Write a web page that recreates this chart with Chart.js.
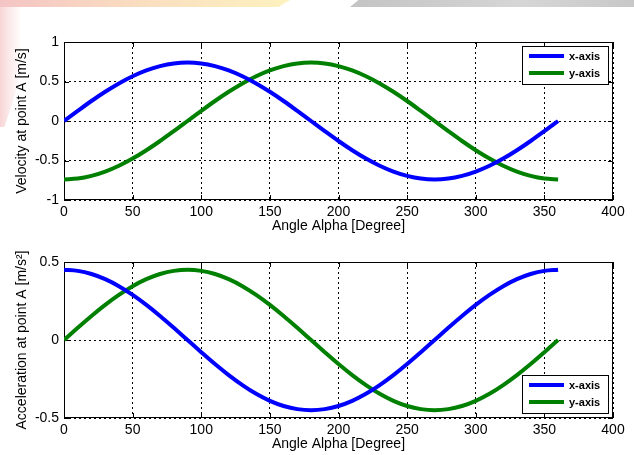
<!DOCTYPE html>
<html>
<head>
<meta charset="utf-8">
<script src="https://cdn.jsdelivr.net/npm/chart.js@4.4.1/dist/chart.umd.min.js"></script>
<style>
    html, body { margin: 0; padding: 0; background: #fff; }
    body { width: 634px; height: 455px; position: relative; overflow: hidden; font-family: 'Liberation Sans', Arial, sans-serif; }
    .deco { position: absolute; }
    #decoLeft { left: 0; top: 0; width: 290px; height: 7px; background: linear-gradient(90deg, #f4c4c4 0%, #f9dcc0 45%, #fdf2bf 100%); clip-path: polygon(0 0, 100% 0, 96% 100%, 0 100%); }
    #decoRight { left: 350px; top: 0; width: 284px; height: 7px; background: linear-gradient(90deg, #c4c4c4 0%, #cfcfcf 40%, #d6d6d6 60%, #c8c8c8 100%); clip-path: polygon(3% 0, 100% 0, 100% 100%, 0 100%); }
    #decoSide { left: 0; top: 7px; width: 22px; height: 120px; background: linear-gradient(90deg, #f6caca 0%, #fbe3e3 40%, rgba(255,255,255,0) 100%); clip-path: polygon(0 0, 100% 0, 100% 55%, 20% 100%, 0 100%); opacity: 0.8; }
    canvas { position: absolute; left: 0; }
    #velocityChart { top: 0; }
    #accelChart { top: 235px; }
</style>
</head>
<body>
<div class="deco" id="decoLeft"></div>
<div class="deco" id="decoRight"></div>
<div class="deco" id="decoSide"></div>
<canvas id="velocityChart" width="634" height="235"></canvas>
<canvas id="accelChart" width="634" height="220"></canvas>
<script>
// Angle steps (degrees)
const angles = [0, 10, 20, 30, 40, 50, 60, 70, 80, 90, 100, 110, 120, 130, 140, 150, 160, 170, 180,
    190, 200, 210, 220, 230, 240, 250, 260, 270, 280, 290, 300, 310, 320, 330, 340, 350, 360];

// Velocity at point A [m/s]
const velocityX = [0, 0.128, 0.253, 0.37, 0.476, 0.567, 0.641, 0.695, 0.729, 0.74, 0.729, 0.695, 0.641, 0.567, 0.476, 0.37, 0.253, 0.128, 0,
    -0.128, -0.253, -0.37, -0.476, -0.567, -0.641, -0.695, -0.729, -0.74, -0.729, -0.695, -0.641, -0.567, -0.476, -0.37, -0.253, -0.128, 0];
const velocityY = [-0.74, -0.729, -0.695, -0.641, -0.567, -0.476, -0.37, -0.253, -0.128, 0, 0.128, 0.253, 0.37, 0.476, 0.567, 0.641, 0.695, 0.729, 0.74,
    0.729, 0.695, 0.641, 0.567, 0.476, 0.37, 0.253, 0.128, 0, -0.128, -0.253, -0.37, -0.476, -0.567, -0.641, -0.695, -0.729, -0.74];

// Acceleration at point A [m/s²]
const accelX = [0.45, 0.443, 0.423, 0.39, 0.345, 0.289, 0.225, 0.154, 0.078, 0, -0.078, -0.154, -0.225, -0.289, -0.345, -0.39, -0.423, -0.443, -0.45,
    -0.443, -0.423, -0.39, -0.345, -0.289, -0.225, -0.154, -0.078, 0, 0.078, 0.154, 0.225, 0.289, 0.345, 0.39, 0.423, 0.443, 0.45];
const accelY = [0, 0.078, 0.154, 0.225, 0.289, 0.345, 0.39, 0.423, 0.443, 0.45, 0.443, 0.423, 0.39, 0.345, 0.289, 0.225, 0.154, 0.078, 0,
    -0.078, -0.154, -0.225, -0.289, -0.345, -0.39, -0.423, -0.443, -0.45, -0.443, -0.423, -0.39, -0.345, -0.289, -0.225, -0.154, -0.078, 0];

// Tick labels
const xTicks = [0, 50, 100, 150, 200, 250, 300, 350, 400];
const velocityTicks = [-1, -0.5, 0, 0.5, 1];
const accelTicks = [-0.5, 0, 0.5];

const seriesNames = ['x-axis', 'y-axis'];
const seriesColors = ['#0000ff', '#008000'];

const FONT = "'Liberation Sans', Arial, sans-serif";

// Build {x, y} points from the arrays
function toPoints(values) {
    return angles.map((a, i) => ({ x: a, y: values[i] }));
}

// Box around the axes with inward tick marks (MATLAB style)
const framePlugin = {
    id: 'frame',
    beforeDatasetsDraw(chart) {
        const { ctx, chartArea: area, scales } = chart;
        ctx.save();
        ctx.strokeStyle = '#000';
        ctx.lineWidth = 1;
        ctx.setLineDash([]);
        ctx.strokeRect(area.left + 0.5, area.top + 0.5, area.right - area.left - 1, area.bottom - area.top - 1);
        ctx.beginPath();
        scales.x.ticks.forEach(t => {
            const px = Math.round(scales.x.getPixelForValue(t.value)) + 0.5;
            ctx.moveTo(px, area.bottom); ctx.lineTo(px, area.bottom - 5);
            ctx.moveTo(px, area.top); ctx.lineTo(px, area.top + 5);
        });
        scales.y.ticks.forEach(t => {
            const py = Math.round(scales.y.getPixelForValue(t.value)) + 0.5;
            ctx.moveTo(area.left, py); ctx.lineTo(area.left + 5, py);
            ctx.moveTo(area.right, py); ctx.lineTo(area.right - 5, py);
        });
        ctx.stroke();
        ctx.restore();
    }
};

// Legend box drawn inside the plot area
const boxLegendPlugin = {
    id: 'boxLegend',
    afterDraw(chart, args, opts) {
        const { ctx } = chart;
        const x = opts.x, y = opts.y, w = 86, h = 38;
        ctx.save();
        ctx.fillStyle = '#fff';
        ctx.fillRect(x, y, w, h);
        ctx.strokeStyle = '#000';
        ctx.lineWidth = 1;
        ctx.strokeRect(x + 0.5, y + 0.5, w, h);
        chart.data.datasets.forEach((ds, i) => {
            const ly = y + 10 + i * 17;
            ctx.strokeStyle = ds.borderColor;
            ctx.lineWidth = 4;
            ctx.beginPath();
            ctx.moveTo(x + 7, ly);
            ctx.lineTo(x + 42, ly);
            ctx.stroke();
            ctx.fillStyle = '#000';
            ctx.font = 'bold 11px ' + FONT;
            ctx.textBaseline = 'middle';
            ctx.fillText(ds.label, x + 47, ly + 1);
        });
        ctx.restore();
    }
};

function makeChart(id, seriesA, seriesB, yMin, yMax, yTicks, yTitle, padTop, xHeight, xTitlePad, legendPos) {
    const ctx = document.getElementById(id);
    return new Chart(ctx, {
        type: 'line',
        data: {
            datasets: [seriesA, seriesB].map((vals, i) => ({
                label: seriesNames[i],
                data: toPoints(vals),
                borderColor: seriesColors[i],
                backgroundColor: seriesColors[i],
                borderWidth: 4,
                pointRadius: 0,
                cubicInterpolationMode: 'monotone',
                fill: false
            }))
        },
        options: {
            responsive: false,
            animation: false,
            devicePixelRatio: 1,
            layout: { padding: { top: padTop, right: 21, left: 0, bottom: 0 } },
            plugins: {
                legend: { display: false },
                tooltip: { enabled: false },
                boxLegend: legendPos
            },
            scales: {
                x: {
                    type: 'linear',
                    min: 0,
                    max: 400,
                    afterBuildTicks: scale => { scale.ticks = xTicks.map(v => ({ value: v })); },
                    afterFit: scale => { scale.height = xHeight; },
                    grid: { color: '#000', lineWidth: 1, drawTicks: false },
                    border: { display: false, dash: [2, 3] },
                    ticks: { color: '#000', padding: 4, font: { family: FONT, size: 14 }, maxRotation: 0 },
                    title: { display: true, text: 'Angle Alpha [Degree]', color: '#000', padding: { top: 0, bottom: xTitlePad }, font: { family: FONT, size: 14 } }
                },
                y: {
                    min: yMin,
                    max: yMax,
                    afterBuildTicks: scale => { scale.ticks = yTicks.map(v => ({ value: v })); },
                    afterFit: scale => { scale.width = 64; },
                    grid: { color: '#000', lineWidth: 1, drawTicks: false },
                    border: { display: false, dash: [2, 3] },
                    ticks: { color: '#000', padding: 5, font: { family: FONT, size: 14 }, callback: v => String(v) },
                    title: { display: true, text: yTitle, color: '#000', padding: { top: 14, bottom: 0 }, font: { family: FONT, size: 14 } }
                }
            }
        },
        plugins: [framePlugin, boxLegendPlugin]
    });
}

const velocityChart = makeChart('velocityChart', velocityX, velocityY, -1, 1, velocityTicks,
    'Velocity at point A [m/s]', 42, 35, 0, { x: 522, y: 46 });
const accelChart = makeChart('accelChart', accelX, accelY, -0.5, 0.5, accelTicks,
    'Acceleration at point A [m/s²]', 27, 37, 2, { x: 522, y: 140 });
</script>
</body>
</html>
